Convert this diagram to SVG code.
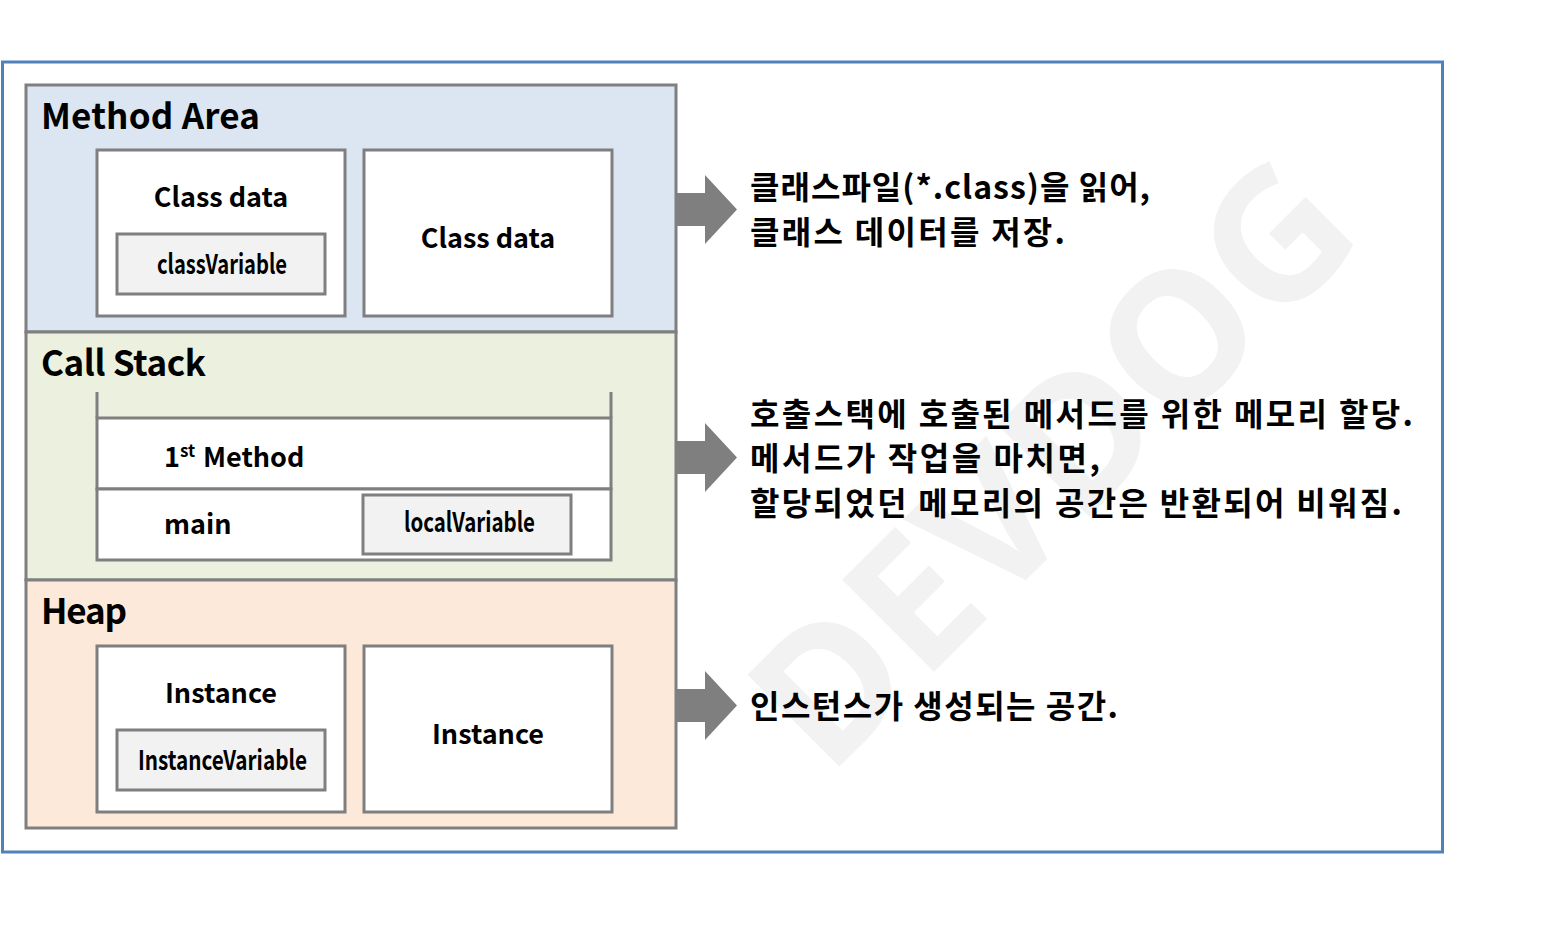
<svg xmlns="http://www.w3.org/2000/svg" width="1551" height="946" viewBox="0 0 1551 946">
<style>
.box{stroke:#7f7f7f;stroke-width:3}
.white{fill:#ffffff}
.var{fill:#f2f2f2}
.head{font-family:"Noto Sans CJK KR","Noto Sans",sans-serif;font-weight:bold;font-size:35px;fill:#000}
.lbl{font-family:"Noto Sans CJK KR","Noto Sans",sans-serif;font-weight:bold;font-size:27px;fill:#000}
.ko{font-family:"Noto Sans CJK KR",sans-serif;font-weight:bold;font-size:32px;fill:#000}
.arrow{fill:#7f7f7f}
.wm{font-family:"Noto Sans","DejaVu Sans",sans-serif;font-weight:bold;font-size:182px;fill:#f2f2f2}
</style>
<rect x="0" y="0" width="1551" height="946" fill="#ffffff"/>
<g id="frame">
<rect x="2.5" y="62" width="1440" height="790" fill="#ffffff" stroke="#4f81bd" stroke-width="3"/>
</g>
<g id="watermark">
<text class="wm" x="1052" y="527" text-anchor="middle" transform="rotate(-45 1052 462)">DEVDOG</text>
</g>
<g id="method-area">
<rect class="box" x="26" y="85" width="650" height="247" fill="#dce6f2"/>
<text class="head" x="41" y="129" textLength="219">Method Area</text>
</g>
<g id="class-data-1">
<rect class="box white" x="97" y="150" width="248" height="166"/>
<text class="lbl" x="221" y="207" text-anchor="middle">Class data</text>
</g>
<g id="class-variable">
<rect class="box var" x="117" y="234" width="208" height="60"/>
<text class="lbl" x="157" y="274" textLength="130" lengthAdjust="spacingAndGlyphs">classVariable</text>
</g>
<g id="class-data-2">
<rect class="box white" x="364" y="150" width="248" height="166"/>
<text class="lbl" x="488" y="248" text-anchor="middle">Class data</text>
</g>
<g id="call-stack">
<rect class="box" x="26" y="332" width="650" height="248" fill="#ebf1de"/>
<text class="head" x="41" y="376" textLength="165">Call Stack</text>
<line class="box" x1="97" y1="392" x2="97" y2="418"/>
<line class="box" x1="611" y1="392" x2="611" y2="418"/>
</g>
<g id="first-method">
<rect class="box white" x="97" y="418" width="514" height="71"/>
<text class="lbl" x="164" y="467">1<tspan font-size="17" dy="-10">st</tspan><tspan x="203" dy="10">Method</tspan></text>
</g>
<g id="main">
<rect class="box white" x="97" y="489" width="514" height="71"/>
<text class="lbl" x="164" y="534">main</text>
</g>
<g id="local-variable">
<rect class="box var" x="363" y="495" width="208" height="59"/>
<text class="lbl" x="404" y="532" textLength="131" lengthAdjust="spacingAndGlyphs">localVariable</text>
</g>
<g id="heap">
<rect class="box" x="26" y="580" width="650" height="248" fill="#fde9d9"/>
<text class="head" x="41" y="624" textLength="86">Heap</text>
</g>
<g id="instance-1">
<rect class="box white" x="97" y="646" width="248" height="166"/>
<text class="lbl" x="221" y="703" text-anchor="middle">Instance</text>
</g>
<g id="instance-variable">
<rect class="box var" x="117" y="730" width="208" height="60"/>
<text class="lbl" x="138" y="770" textLength="169" lengthAdjust="spacingAndGlyphs">InstanceVariable</text>
</g>
<g id="instance-2">
<rect class="box white" x="364" y="646" width="248" height="166"/>
<text class="lbl" x="488" y="744" text-anchor="middle">Instance</text>
</g>
<g id="connectors">
<polygon class="arrow" points="677,193 705,193 705,175 737,209.5 705,244 705,226 677,226"/>
<polygon class="arrow" points="677,441 705,441 705,423 737,457.5 705,492 705,474 677,474"/>
<polygon class="arrow" points="677,689 705,689 705,671 737,705.5 705,740 705,722 677,722"/>
</g>
<g id="desc-method-area">
<text class="ko" x="750" y="199" textLength="400">클래스파일(*.class)을 읽어,</text>
<text class="ko" x="750" y="244" textLength="315">클래스 데이터를 저장.</text>
</g>
<g id="desc-call-stack">
<text class="ko" x="750" y="426" textLength="663">호출스택에 호출된 메서드를 위한 메모리 할당.</text>
<text class="ko" x="750" y="470" textLength="350">메서드가 작업을 마치면,</text>
<text class="ko" x="750" y="515" textLength="652">할당되었던 메모리의 공간은 반환되어 비워짐.</text>
</g>
<g id="desc-heap">
<text class="ko" x="750" y="718" textLength="368">인스턴스가 생성되는 공간.</text>
</g>
</svg>
